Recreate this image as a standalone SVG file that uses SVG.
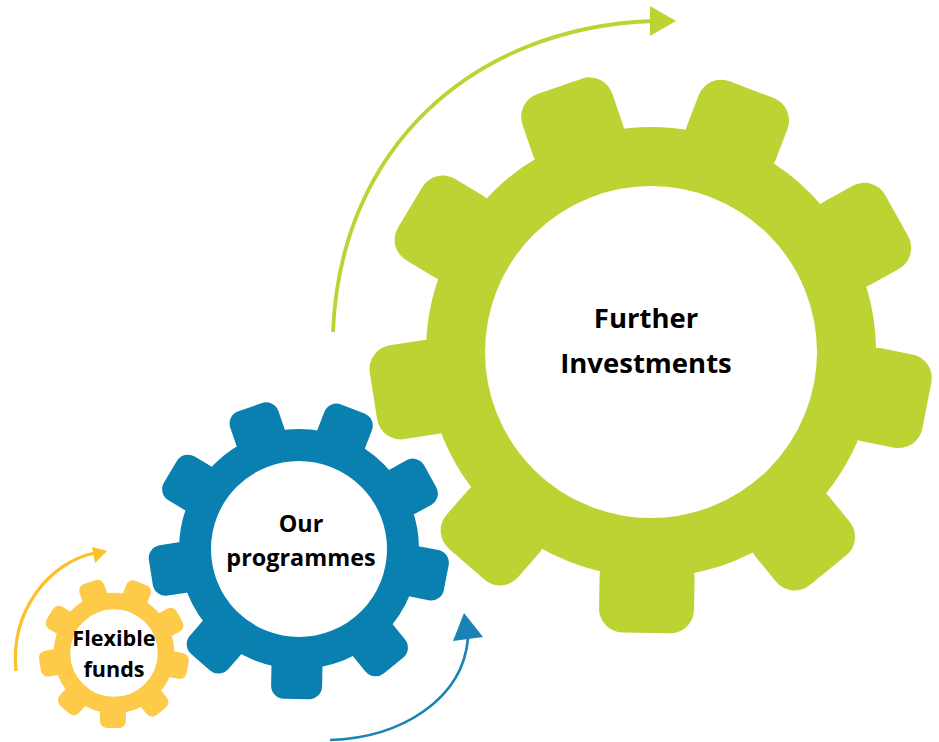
<svg xmlns="http://www.w3.org/2000/svg" xmlns:xlink="http://www.w3.org/1999/xlink" width="939" height="742" viewBox="0 0 939 742">
<style>
text{font-family:"Open Sans","Noto Sans",sans-serif;font-weight:700;fill:#000;text-anchor:middle}
.conn{fill:none}
</style>
<defs>
<rect id="tg" x="-47.5" y="200" width="95" height="81" rx="24"/>
<rect id="tb" x="-25.5" y="105" width="51" height="45" rx="13"/>
<rect id="ty" x="-13" y="50" width="26" height="25" rx="7"/>
</defs>
<rect width="939" height="742" fill="#fff"/>
<g id="connectors">
<path class="conn" stroke="#bdd333" stroke-width="3.8" d="M333,332 C340,150 470,28 652,21"/>
<polygon fill="#bdd333" points="650,6 676,21 650,36"/>
<path class="conn" stroke="#fdbf2b" stroke-width="3.2" d="M16,671 C10,610 50,562 95,553"/>
<polygon fill="#fdbf2b" points="92,547 107,551 95,563"/>
<path class="conn" stroke="#1a82b4" stroke-width="2.7" d="M330,740 C400,738 463,700 468,638"/>
<polygon fill="#1a82b4" points="464,613 483,637 453,641"/>
</g>
<g id="further-investments">
<circle cx="651" cy="352" r="195.5" fill="none" stroke="#bdd333" stroke-width="59"/>
<g fill="#bdd333" transform="translate(651,352) rotate(1)">
<use href="#tg"/><use href="#tg" transform="rotate(40)"/><use href="#tg" transform="rotate(80)"/><use href="#tg" transform="rotate(120)"/><use href="#tg" transform="rotate(160)"/><use href="#tg" transform="rotate(200)"/><use href="#tg" transform="rotate(240)"/><use href="#tg" transform="rotate(280)"/><use href="#tg" transform="rotate(320)"/>
</g>
<text x="646" y="328" font-size="27.5">Further</text>
<text x="646" y="373" font-size="27.5">Investments</text>
</g>
<g id="our-programmes">
<circle cx="299" cy="549" r="104" fill="none" stroke="#0980b0" stroke-width="32"/>
<g fill="#0980b0" transform="translate(299,549) rotate(1)">
<use href="#tb"/><use href="#tb" transform="rotate(40)"/><use href="#tb" transform="rotate(80)"/><use href="#tb" transform="rotate(120)"/><use href="#tb" transform="rotate(160)"/><use href="#tb" transform="rotate(200)"/><use href="#tb" transform="rotate(240)"/><use href="#tb" transform="rotate(280)"/><use href="#tb" transform="rotate(320)"/>
</g>
<text x="301" y="532" font-size="23.4">Our</text>
<text x="301" y="566" font-size="23.4">programmes</text>
</g>
<g id="flexible-funds">
<circle cx="114" cy="653" r="52" fill="none" stroke="#fdca4a" stroke-width="16.5"/>
<g fill="#fdca4a" transform="translate(114,653) rotate(1)">
<use href="#ty"/><use href="#ty" transform="rotate(40)"/><use href="#ty" transform="rotate(80)"/><use href="#ty" transform="rotate(120)"/><use href="#ty" transform="rotate(160)"/><use href="#ty" transform="rotate(200)"/><use href="#ty" transform="rotate(240)"/><use href="#ty" transform="rotate(280)"/><use href="#ty" transform="rotate(320)"/>
</g>
<text x="114" y="646" font-size="21.6">Flexible</text>
<text x="114" y="677" font-size="21.6">funds</text>
</g>
</svg>
